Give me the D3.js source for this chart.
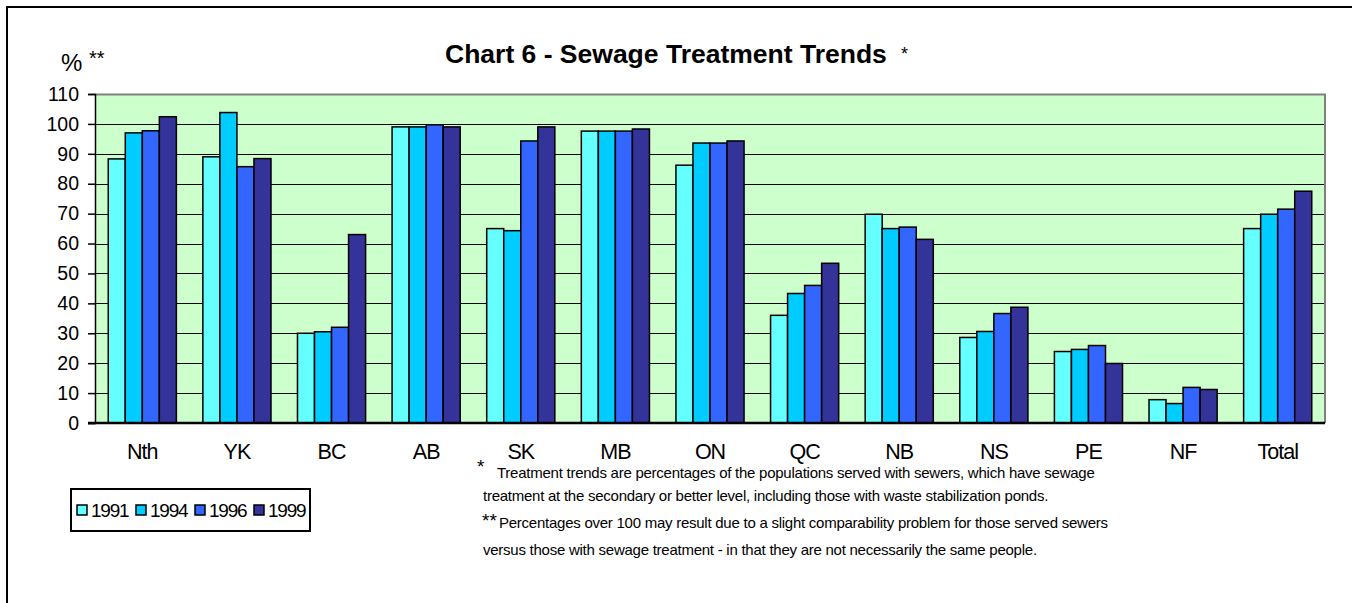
<!DOCTYPE html>
<html>
<head>
<meta charset="utf-8">
<script src="https://cdn.jsdelivr.net/npm/d3@7"></script>
<style>
  body { margin: 0; background: #fff; }
  svg { display: block; font-family: "Liberation Sans", Arial, sans-serif; }
</style>
</head>
<body>
<svg id="chart" width="1352" height="603"></svg>
<script>

// data
var regions = ["Nth", "YK", "BC", "AB", "SK", "MB", "ON", "QC", "NB", "NS", "PE", "NF", "Total"];
var years = ["1991", "1994", "1996", "1999"];
var v1991 = [88.3, 89, 30, 99, 65, 97.6, 86.2, 36, 69.8, 28.6, 23.9, 7.8, 65];
var v1994 = [97, 103.8, 30.5, 99, 64.3, 97.6, 93.6, 43.3, 65, 30.6, 24.6, 6.5, 69.8];
var v1996 = [97.7, 85.7, 32, 99.7, 94.3, 97.6, 93.6, 46, 65.5, 36.6, 25.9, 11.9, 71.5];
var v1999 = [102.4, 88.4, 63, 99, 99, 98.3, 94.3, 53.4, 61.4, 38.7, 19.9, 11.2, 77.5];
var yTicks = [0, 10, 20, 30, 40, 50, 60, 70, 80, 90, 100, 110];

var series = [v1991, v1994, v1996, v1999];
var colors = ["#66ffff", "#00ccff", "#3366ff", "#333399"];

var svg = d3.select("#chart");

var plotLeft = 95, plotRight = 1325, plotTop = 94, plotBottom = 423;

var x = d3.scaleBand().domain(regions).range([plotLeft, plotRight]).paddingInner(0.28).paddingOuter(0.14);
var xs = d3.scaleBand().domain(years).range([0, x.bandwidth()]);
var y = d3.scaleLinear().domain([0, 110]).range([plotBottom, plotTop]);

// outer frame (top and left only)
svg.append("path")
  .attr("d", "M7,603 L7,7 L1352,7")
  .attr("fill", "none").attr("stroke", "#000").attr("stroke-width", 2);

// title
svg.append("text")
  .attr("x", 445).attr("y", 63)
  .attr("font-size", "26.5px").attr("font-weight", "bold")
  .text("Chart 6 - Sewage Treatment Trends");
svg.append("text")
  .attr("x", 901).attr("y", 60)
  .attr("font-size", "18px")
  .text("*");

// y unit label
svg.append("text").attr("x", 61).attr("y", 71).attr("font-size", "24px").text("%");
svg.append("text").attr("x", 89).attr("y", 65).attr("font-size", "20px").text("**");

// plot background
svg.append("rect")
  .attr("x", plotLeft).attr("y", plotTop)
  .attr("width", plotRight - plotLeft).attr("height", plotBottom - plotTop)
  .attr("fill", "#ccffcc");

// gridlines
svg.append("g")
  .selectAll("line")
  .data(yTicks.filter(function (d) { return d > 0 && d < 110; }))
  .join("line")
  .attr("x1", plotLeft).attr("x2", plotRight)
  .attr("y1", function (d) { return Math.round(y(d)) + 0.5; })
  .attr("y2", function (d) { return Math.round(y(d)) + 0.5; })
  .attr("stroke", "#000").attr("stroke-width", 1);

// top and right border of plot
svg.append("path")
  .attr("d", "M" + plotLeft + "," + (plotTop + 0.5) + " L" + plotRight + "," + (plotTop + 0.5) + " L" + plotRight + "," + plotBottom)
  .attr("fill", "none").attr("stroke", "#808080").attr("stroke-width", 2);

// bars
for (var i = 0; i < series.length; i += 1) {
  svg.append("g")
    .selectAll("rect")
    .data(series[i])
    .join("rect")
    .attr("x", function (d, j) { return x(regions[j]) + xs(years[i]); })
    .attr("y", function (d) { return y(d); })
    .attr("width", xs.bandwidth())
    .attr("height", function (d) { return plotBottom - y(d); })
    .attr("fill", colors[i])
    .attr("stroke", "#000").attr("stroke-width", 1.5);
}

// y axis
var yAxis = svg.append("g")
  .attr("transform", "translate(" + plotLeft + ",0)")
  .call(d3.axisLeft(y).tickValues(yTicks).tickSize(7).tickPadding(9));
yAxis.select(".domain").attr("stroke", "#000").attr("stroke-width", 1.5);
yAxis.selectAll(".tick line").attr("stroke", "#000").attr("stroke-width", 1.5);
yAxis.selectAll(".tick text")
  .attr("font-family", "Liberation Sans, Arial, sans-serif")
  .attr("font-size", "19.5px").attr("fill", "#000");

// x axis baseline
svg.append("line")
  .attr("x1", plotLeft - 7).attr("x2", plotRight)
  .attr("y1", plotBottom).attr("y2", plotBottom)
  .attr("stroke", "#000").attr("stroke-width", 2.5);

// category labels
var xAxis = svg.append("g")
  .attr("transform", "translate(0," + plotBottom + ")")
  .call(d3.axisBottom(x).tickSize(0).tickPadding(21));
xAxis.select(".domain").remove();
xAxis.selectAll(".tick text")
  .attr("font-family", "Liberation Sans, Arial, sans-serif")
  .attr("font-size", "21.5px").attr("fill", "#000")
  .attr("letter-spacing", "-1px");

// legend
var legend = svg.append("g").attr("transform", "translate(71,489)");
legend.append("rect")
  .attr("x", 0).attr("y", 0).attr("width", 239).attr("height", 42)
  .attr("fill", "#fff").attr("stroke", "#000").attr("stroke-width", 2);
var item = legend.selectAll("g.item")
  .data(years)
  .join("g")
  .attr("class", "item")
  .attr("transform", function (d, i) { return "translate(" + (34 + i * 59) + ",21)"; });
item.append("rect")
  .attr("x", -28).attr("y", -5).attr("width", 10).attr("height", 10)
  .attr("fill", function (d, i) { return colors[i]; })
  .attr("stroke", "#000").attr("stroke-width", 1.5);
item.append("text")
  .attr("x", -14).attr("y", 7)
  .attr("font-size", "19px")
  .attr("letter-spacing", "-1.2px")
  .text(function (d) { return d; });

// footnotes
var notes = svg.append("g").attr("font-size", "15px").attr("fill", "#000");
notes.append("text").attr("x", 477).attr("y", 473).attr("font-size", "19px").text("*");
notes.append("text").attr("x", 497).attr("y", 478).attr("letter-spacing", "-0.25px")
  .text("Treatment trends are percentages of the populations served with sewers, which have sewage");
notes.append("text").attr("x", 483).attr("y", 501).attr("letter-spacing", "-0.25px")
  .text("treatment at the secondary or better level, including those with waste stabilization ponds.");
notes.append("text").attr("x", 482).attr("y", 527).attr("font-size", "19px").text("**");
notes.append("text").attr("x", 499).attr("y", 528).attr("letter-spacing", "-0.25px")
  .text("Percentages over 100 may result due to a slight comparability problem for those served sewers");
notes.append("text").attr("x", 483).attr("y", 555).attr("letter-spacing", "-0.25px")
  .text("versus those with sewage treatment - in that they are not necessarily the same people.");

</script>
</body>
</html>
